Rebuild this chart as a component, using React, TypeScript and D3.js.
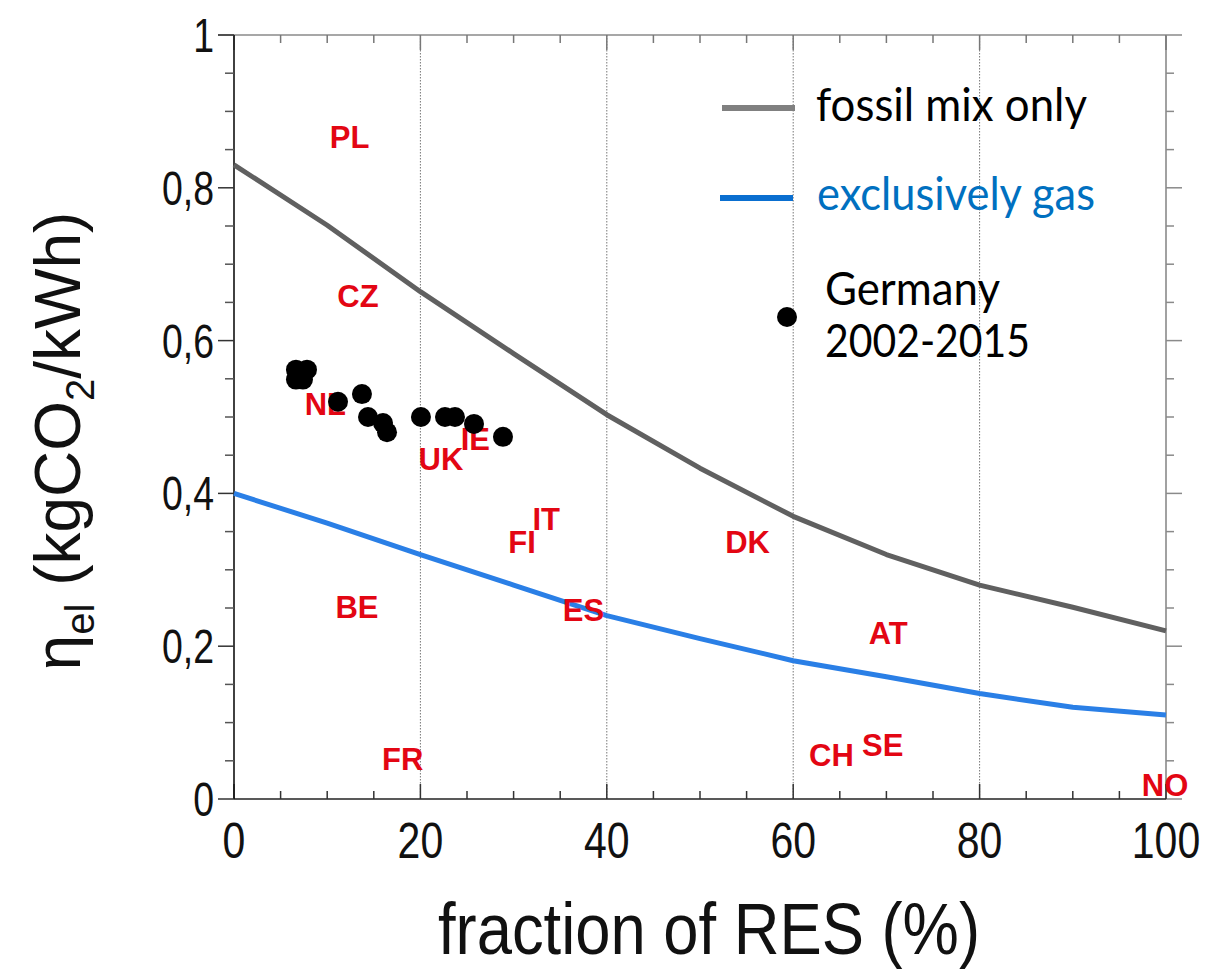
import React, { useEffect } from "react";
import * as d3 from "d3";

// Emission intensity of electricity vs. share of renewable sources
const resGrid = [0, 10, 20, 30, 40, 50, 60, 70, 80, 90, 100];
const fossilMix = [0.83, 0.751, 0.664, 0.583, 0.503, 0.433, 0.37, 0.32, 0.28, 0.251, 0.22];
const gasOnly = [0.4, 0.361, 0.32, 0.28, 0.24, 0.21, 0.181, 0.16, 0.138, 0.12, 0.11];

// Germany 2002-2015: RES share (%) and intensity (kgCO2/kWh)
const germanyRes = [6.65, 7.83, 6.65, 7.4, 11.16, 13.73, 14.38, 15.99, 16.42, 20.06, 22.64, 23.71, 25.75, 28.86];
const germanyEta = [0.562, 0.562, 0.549, 0.549, 0.52, 0.53, 0.5, 0.492, 0.48, 0.5, 0.5, 0.5, 0.491, 0.474];

// Country markers
const countries = ["PL", "CZ", "NL", "UK", "IE", "IT", "FI", "DK", "ES", "BE", "FR", "AT", "CH", "SE", "NO"];
const countryRes = [12.4, 13.3, 9.8, 22.2, 25.9, 33.5, 30.9, 55.1, 37.5, 13.2, 18.1, 70.2, 64.1, 69.6, 99.9];
const countryEta = [0.866, 0.658, 0.517, 0.445, 0.471, 0.367, 0.336, 0.336, 0.247, 0.251, 0.052, 0.217, 0.058, 0.071, 0.018];

const xTickValues = [0, 20, 40, 60, 80, 100];
const yTickValues = [0, 0.2, 0.4, 0.6, 0.8, 1];
const yTickLabels = ["0", "0,2", "0,4", "0,6", "0,8", "1"];

const W = 1208;
const H = 970;
const x = d3.scaleLinear().domain([0, 100]).range([234, 1166]);
const y = d3.scaleLinear().domain([0, 1]).range([799, 35]);

const sans = "'Liberation Sans', Arial, sans-serif";
const legendFont = "Lato, 'Open Sans', sans-serif";
// condensed look for tick labels and x title
const CONDENSE = 0.82;

export default function App() {
  useEffect(() => {
    document.body.style.margin = "0";
  }, []);

  const lineGen = d3
    .line<number>()
    .x((_, i) => x(resGrid[i]))
    .y((d) => y(d));

  const xMinor = d3.range(0, 100.001, 5);
  const yMinor = d3.range(0, 1.0001, 0.05);
  const isMajorX = (v: number) => Math.round(v) % 20 === 0;
  const isMajorY = (v: number) => Math.round(v * 100) % 20 === 0;

  const [x0, x1] = x.range();
  const [y0, y1] = y.range();

  return (
    <svg width={W} height={H} style={{ display: "block", background: "#fff" }}>
      {/* vertical dotted gridlines */}
      {xTickValues
        .filter((v) => v > 0 && v < 100)
        .map((v) => (
          <line
            key={"g" + v}
            x1={x(v)}
            x2={x(v)}
            y1={y1}
            y2={y0}
            stroke="#777"
            strokeWidth={1}
            strokeDasharray="1.5,1.5"
          />
        ))}

      {/* frame: top and right in gray */}
      <line x1={x0 - 16} x2={x1} y1={y1} y2={y1} stroke="#8a8a8a" strokeWidth={1.6} />
      <line x1={x1} x2={x1} y1={y1} y2={y0} stroke="#8a8a8a" strokeWidth={1.6} />

      {/* top ticks (inward) */}
      {xMinor.map((v) => (
        <line
          key={"tt" + v}
          x1={x(v)}
          x2={x(v)}
          y1={y1}
          y2={y1 + (isMajorX(v) ? 15 : 8)}
          stroke="#777"
          strokeWidth={1.5}
        />
      ))}
      {/* right ticks (outward) */}
      {yMinor.map((v) => (
        <line
          key={"rt" + v}
          x1={x1}
          x2={x1 + (isMajorY(v) ? 16 : 8)}
          y1={y(v)}
          y2={y(v)}
          stroke="#8a8a8a"
          strokeWidth={1.5}
        />
      ))}

      {/* bottom axis */}
      <line x1={x0} x2={x1} y1={y0} y2={y0} stroke="#222" strokeWidth={1.6} />
      {xMinor.map((v) => (
        <line
          key={"bt" + v}
          x1={x(v)}
          x2={x(v)}
          y1={y0}
          y2={y0 - (isMajorX(v) ? 15 : 8)}
          stroke="#333"
          strokeWidth={1.5}
        />
      ))}
      {/* left axis */}
      <line x1={x0} x2={x0} y1={y1} y2={y0} stroke="#111" strokeWidth={1.6} />
      {yMinor.map((v) => (
        <line
          key={"lt" + v}
          x1={x0 - (isMajorY(v) ? 16 : 9)}
          x2={x0}
          y1={y(v)}
          y2={y(v)}
          stroke={isMajorY(v) ? "#333" : "#555"}
          strokeWidth={1.5}
        />
      ))}

      {/* tick labels */}
      {xTickValues.map((v) => (
        <text
          key={"xl" + v}
          transform={`translate(${x(v)},858) scale(${CONDENSE},1)`}
          textAnchor="middle"
          fontFamily={sans}
          fontSize={50}
          fill="#111"
        >
          {v}
        </text>
      ))}
      {yTickValues.map((v, i) => (
        <text
          key={"yl" + v}
          transform={`translate(214,${y(v) + 17}) scale(0.78,1)`}
          textAnchor="end"
          fontFamily={sans}
          fontSize={48}
          fill="#111"
        >
          {yTickLabels[i]}
        </text>
      ))}

      {/* axis titles */}
      <text
        transform="translate(709,954) scale(0.88,1)"
        textAnchor="middle"
        fontFamily={sans}
        fontSize={72}
        fill="#111"
      >
        fraction of RES (%)
      </text>
      <text
        transform="translate(80,441) rotate(-90)"
        textAnchor="middle"
        fontFamily={sans}
        fontSize={64}
        fill="#111"
      >
        <tspan>η</tspan>
        <tspan fontSize={40} dy={14}>el</tspan>
        <tspan dy={-14}> (kgCO</tspan>
        <tspan fontSize={40} dy={14}>2</tspan>
        <tspan dy={-14}>/kWh)</tspan>
      </text>

      {/* model curves */}
      <path d={lineGen(fossilMix) || ""} fill="none" stroke="#606060" strokeWidth={5} strokeLinejoin="round" />
      <path d={lineGen(gasOnly) || ""} fill="none" stroke="#2a7fe6" strokeWidth={5} strokeLinejoin="round" />

      {/* country labels */}
      {countries.map((c, i) => (
        <text
          key={c}
          x={x(countryRes[i])}
          y={y(countryEta[i]) + 11}
          textAnchor="middle"
          fontFamily={sans}
          fontWeight="bold"
          fontSize={31}
          fill="#e30613"
        >
          {c}
        </text>
      ))}

      {/* Germany trajectory */}
      {germanyRes.map((r, i) => (
        <circle key={"de" + i} cx={x(r)} cy={y(germanyEta[i])} r={10} fill="#000" />
      ))}

      {/* legend */}
      <line x1={722} x2={795} y1={108} y2={108} stroke="#808080" strokeWidth={6} />
      <text
        x={816}
        y={121}
        fontFamily={legendFont}
        fontSize={46}
        fill="#000"
        textLength={271}
        lengthAdjust="spacingAndGlyphs"
      >
        fossil mix only
      </text>
      <line x1={720} x2={793} y1={198} y2={198} stroke="#0a6fd0" strokeWidth={6} />
      <text
        x={817}
        y={210}
        fontFamily={legendFont}
        fontSize={46}
        fill="#0070c0"
        textLength={278}
        lengthAdjust="spacingAndGlyphs"
      >
        exclusively gas
      </text>
      <circle cx={787} cy={317} r={10} fill="#000" />
      <text
        x={825}
        y={305}
        fontFamily={legendFont}
        fontSize={46}
        fill="#000"
        textLength={175}
        lengthAdjust="spacingAndGlyphs"
      >
        Germany
      </text>
      <text
        x={825}
        y={357}
        fontFamily={legendFont}
        fontSize={46}
        fill="#000"
        textLength={205}
        lengthAdjust="spacingAndGlyphs"
      >
        2002-2015
      </text>
    </svg>
  );
}
